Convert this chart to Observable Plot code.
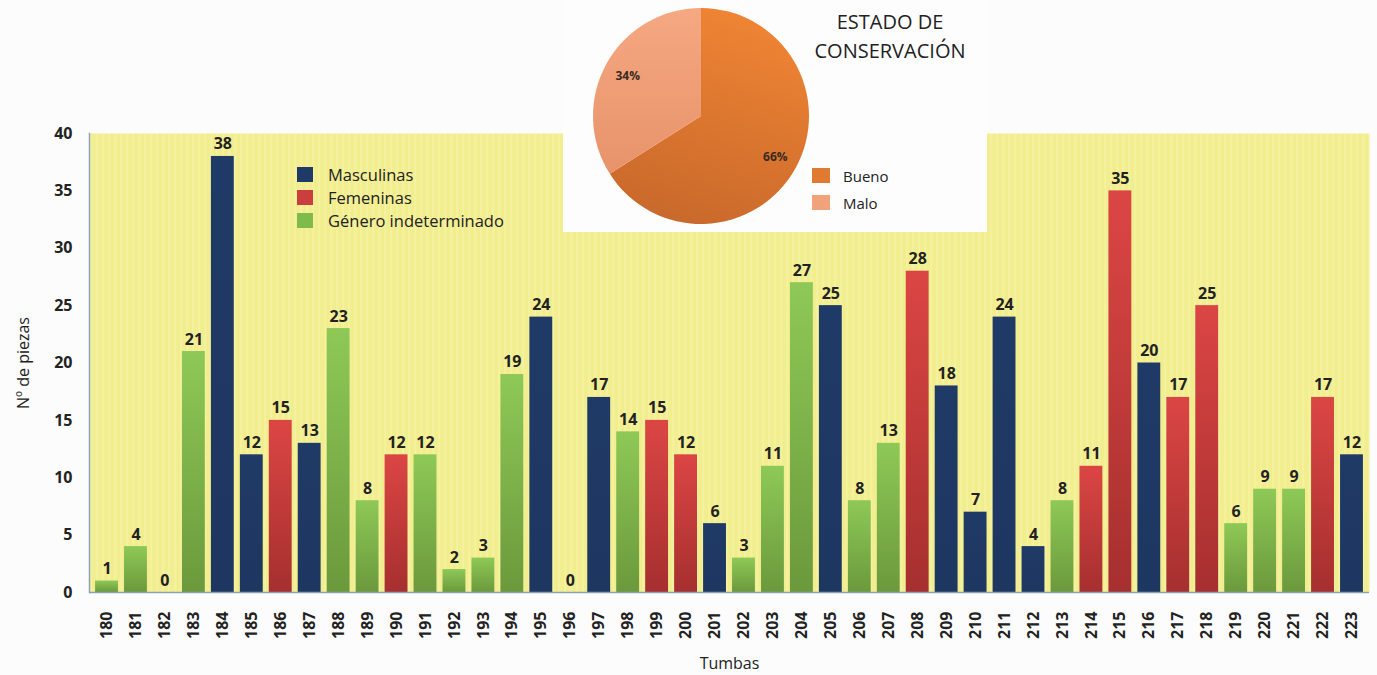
<!DOCTYPE html>
<html>
<head>
<meta charset="utf-8">
<script src="https://cdn.jsdelivr.net/npm/d3@7"></script>
<script src="https://cdn.jsdelivr.net/npm/@observablehq/plot@0.6"></script>
<style>
  html, body { margin: 0; padding: 0; background: #fcfcfc; }
  #wrap { position: relative; width: 1377px; height: 675px; overflow: hidden; font-family: "Open Sans", sans-serif; color: #222; }
  #main { position: absolute; left: 0; top: 0; }
  #legend { position: absolute; left: 297px; top: 163px; font-size: 16.5px; line-height: 23px; color: #222; }
  #legend .row { display: flex; align-items: center; height: 23px; }
  #legend .sw { width: 16px; height: 15px; margin-right: 15px; }
  #piebox { position: absolute; left: 563px; top: 0; width: 424px; height: 232px; background: #fdfdfd; }
  #pietitle { position: absolute; left: 790px; top: 7px; width: 200px; text-align: center; font-size: 20px; line-height: 29px; color: #222; }
  #pielegend { position: absolute; left: 812px; top: 162px; font-size: 15px; color: #222; }
  #pielegend .row { display: flex; align-items: center; height: 27px; }
  #pielegend .sw { width: 18px; height: 15px; margin-right: 13px; }
</style>
</head>
<body>
<div id="wrap">
  <div id="main"></div>
  <div id="legend"></div>
  <div id="piebox"></div>
  <div id="pietitle">ESTADO DE<br>CONSERVACIÓN</div>
  <div id="pielegend"></div>
</div>
<script>
// ---- Data ----
const tumbas = ["180","181","182","183","184","185","186","187","188","189","190","191","192","193","194","195","196","197","198","199","200","201","202","203","204","205","206","207","208","209","210","211","212","213","214","215","216","217","218","219","220","221","222","223"];
const piezas = [1,4,0,21,38,12,15,13,23,8,12,12,2,3,19,24,0,17,14,15,12,6,3,11,27,25,8,13,28,18,7,24,4,8,11,35,20,17,25,6,9,9,17,12];
const genero = ["G","G","G","G","M","M","F","M","G","G","F","G","G","G","G","M","G","M","G","F","F","M","G","G","G","M","G","G","F","M","M","M","M","G","F","F","M","F","F","G","G","G","F","M"];
const generoNombres = {M: "Masculinas", F: "Femeninas", G: "Género indeterminado"};
const yTicks = [0,5,10,15,20,25,30,35,40];

const estado = ["Bueno","Malo"];
const estadoPct = [66, 34];

// ---- Main bar chart ----
const rows = tumbas.map((t, i) => ({tumba: t, n: piezas[i], g: genero[i]}));

const defs = `
<defs>
  <pattern id="stripes" width="6" height="10" patternUnits="userSpaceOnUse">
    <rect width="6" height="10" fill="#f2ee8f"/>
    <rect x="0" width="1.2" height="10" fill="#f6f3a9"/>
  </pattern>
  <linearGradient id="gG" x1="0" y1="0" x2="0" y2="1">
    <stop offset="0" stop-color="#8ec957"/>
    <stop offset="1" stop-color="#6b993c"/>
  </linearGradient>
  <linearGradient id="gF" x1="0" y1="0" x2="0" y2="1">
    <stop offset="0" stop-color="#db4644"/>
    <stop offset="1" stop-color="#a62f2f"/>
  </linearGradient>
  <linearGradient id="gM" x1="0" y1="0" x2="0" y2="1">
    <stop offset="0" stop-color="#1f3a66"/>
    <stop offset="1" stop-color="#1e3761"/>
  </linearGradient>
  <linearGradient id="pB" x1="0.7" y1="0" x2="0.4" y2="1">
    <stop offset="0" stop-color="#f08534"/>
    <stop offset="1" stop-color="#c9692b"/>
  </linearGradient>
  <linearGradient id="pM" x1="0.5" y1="0" x2="0.5" y2="1">
    <stop offset="0" stop-color="#f5a882"/>
    <stop offset="1" stop-color="#e8936a"/>
  </linearGradient>
</defs>`;

const barFill = {M: "url(#gM)", F: "url(#gF)", G: "url(#gG)"};
const legendColor = {M: "#1f3a66", F: "#cc3d3d", G: "#7fba4c"};

const main = Plot.plot({
  width: 1377,
  height: 675,
  marginLeft: 89,
  marginRight: 8,
  marginTop: 133,
  marginBottom: 83,
  style: {fontFamily: "'Open Sans', sans-serif", background: "transparent", color: "#222"},
  x: {domain: tumbas, padding: 0.21, label: null},
  y: {domain: [0, 40], label: null},
  marks: [
    Plot.frame({fill: "url(#stripes)", stroke: null}),
    ...["M","F","G"].map(k => Plot.barY(rows.filter(d => d.g === k), {x: "tumba", y: "n", fill: barFill[k]})),
    Plot.ruleY([0], {stroke: "#8ea3b2", strokeWidth: 1.5}),
    Plot.frame({anchor: "left", stroke: "#8ea3b2", strokeWidth: 1.5}),
    Plot.text(rows, {x: "tumba", y: "n", text: d => String(d.n), lineAnchor: "bottom", dy: -7, fontSize: 16, fontWeight: "bold", fill: "#222"}),
    Plot.axisY({ticks: yTicks, tickSize: 0, tickPadding: 17, fontSize: 16, label: "Nº de piezas", labelAnchor: "center", labelOffset: 72, labelArrow: "none"}),
    Plot.axisX({tickSize: 0, tickPadding: 19, tickRotate: -90, fontSize: 16, label: "Tumbas", labelAnchor: "center", labelOffset: 76, labelArrow: "none"})
  ]
});
main.insertAdjacentHTML("afterbegin", defs);
document.getElementById("main").appendChild(main);
// axis styling
main.querySelectorAll("g[aria-label='x-axis tick label'], g[aria-label='y-axis tick label']").forEach(g => { g.setAttribute("font-weight", "bold"); g.setAttribute("font-size", "16"); g.setAttribute("fill", "#222"); });
main.querySelectorAll("g[aria-label='x-axis label'], g[aria-label='y-axis label']").forEach(g => { g.setAttribute("font-weight", "normal"); g.setAttribute("font-size", "16"); g.setAttribute("fill", "#222"); });

// legend
const leg = document.getElementById("legend");
["M","F","G"].forEach(k => {
  const r = document.createElement("div"); r.className = "row";
  r.innerHTML = `<div class="sw" style="background:${legendColor[k]}"></div><span>${generoNombres[k]}</span>`;
  leg.appendChild(r);
});

// ---- Pie chart ----
const pieData = estado.map((e, i) => ({estado: e, value: estadoPct[i]}));
const arcs = d3.pie().sort(null).value(d => d.value)(pieData);
const pieLabels = arcs.map(a => {
  const m = (a.startAngle + a.endAngle) / 2;
  return {x: 0.78 * Math.sin(m), y: 0.78 * Math.cos(m), text: a.data.value + "%"};
});
const pieFill = {Bueno: "url(#p_pB)", Malo: "url(#p_pM)"};

function pieMark(index, scales) {
  const cx = scales.x(0), cy = scales.y(0);
  const r = scales.x(1) - scales.x(0);
  const g = d3.create("svg:g").attr("transform", `translate(${cx},${cy})`);
  const arc = d3.arc().innerRadius(0).outerRadius(r);
  g.selectAll("path").data(arcs).join("path")
    .attr("d", arc)
    .attr("fill", d => pieFill[d.data.estado]);
  return g.node();
}

const pie = Plot.plot({
  width: 424,
  height: 232,
  marginLeft: 30,
  marginRight: 178,
  marginTop: 8,
  marginBottom: 8,
  style: {fontFamily: "'Open Sans', sans-serif", background: "transparent"},
  x: {domain: [-1, 1], axis: null},
  y: {domain: [-1, 1], axis: null},
  marks: [
    pieMark,
    Plot.text(pieLabels, {x: "x", y: "y", text: "text", fontSize: 12, fontWeight: "bold", fill: "#3a2a20"})
  ]
});
pie.insertAdjacentHTML("afterbegin", defs.replace(/id="/g, 'id="p_'));
document.getElementById("piebox").appendChild(pie);

const pleg = document.getElementById("pielegend");
const pColor = {Bueno: "#e07a30", Malo: "#f2a27a"};
estado.forEach(e => {
  const r = document.createElement("div"); r.className = "row";
  r.innerHTML = `<div class="sw" style="background:${pColor[e]}"></div><span>${e}</span>`;
  pleg.appendChild(r);
});
</script>
</body>
</html>
